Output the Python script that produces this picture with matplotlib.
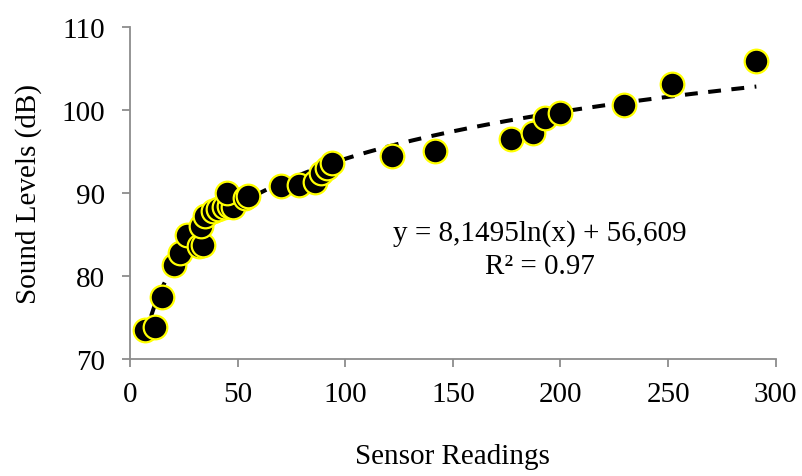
import matplotlib.pyplot as plt
import numpy as np

# sensor readings vs measured sound level
sensor = [7, 11.5, 15, 20.5, 23, 26.5, 32, 34, 33, 35, 38.5, 41, 43.5, 46, 48, 45,
          53.5, 55, 70, 78.5, 86, 88.5, 91.5, 94, 121.5, 141.5, 177, 187, 193, 200,
          229.5, 252, 291]
sound_db = [73.5, 73.9, 77.5, 81.4, 82.8, 84.9, 83.6, 83.8, 86.1, 87.2, 87.8, 88.1,
            88.3, 88.5, 88.3, 90.0, 89.4, 89.6, 90.8, 91.0, 91.4, 92.4, 93.0, 93.6,
            94.5, 95.1, 96.5, 97.3, 99.1, 99.6, 100.6, 103.1, 105.9]

fit_a = 8.1495
fit_b = 56.609
eq_text = 'y = 8,1495ln(x) + 56,609'
r2_text = 'R² = 0.97'

x_ticks = [0, 50, 100, 150, 200, 250, 300]
y_ticks = [70, 80, 90, 100, 110]

plt.rcParams['font.family'] = ['Liberation Serif', 'DejaVu Serif']

fig = plt.figure(figsize=(8.03, 4.77), dpi=100)
ax = fig.add_axes([0.162, 0.245, 0.804, 0.696])

xs = np.linspace(min(sensor), max(sensor), 300)
ax.plot(xs, fit_a * np.log(xs) + fit_b, color='black', lw=2.9,
        linestyle=(0, (3.2, 2.6)), zorder=2)
ax.scatter(sensor, sound_db, s=290, facecolor='black', edgecolor='#ffff00',
           linewidth=1.6, zorder=3)

ax.set_xlim(0, 300)
ax.set_ylim(70, 110)
ax.set_xticks(x_ticks)
ax.set_yticks(y_ticks)

for side in ['top', 'right']:
    ax.spines[side].set_visible(False)
for side in ['left', 'bottom']:
    ax.spines[side].set_color('#8c8c8c')
    ax.spines[side].set_linewidth(1.3)
ax.tick_params(axis='both', colors='#8c8c8c', labelcolor='black', labelsize=21,
               length=6, width=1.3)
ax.tick_params(axis='y', pad=12)
ax.tick_params(axis='x', pad=10)

ax.set_xlabel('Sensor Readings', fontsize=21, labelpad=26)
ax.set_ylabel('Sound Levels (dB)', fontsize=21, labelpad=14)

ax.text(0.635, 0.38, eq_text, transform=ax.transAxes, ha='center', va='center', fontsize=21)
ax.text(0.635, 0.28, r2_text, transform=ax.transAxes, ha='center', va='center', fontsize=21)

fig.savefig('out.png', dpi=100)
